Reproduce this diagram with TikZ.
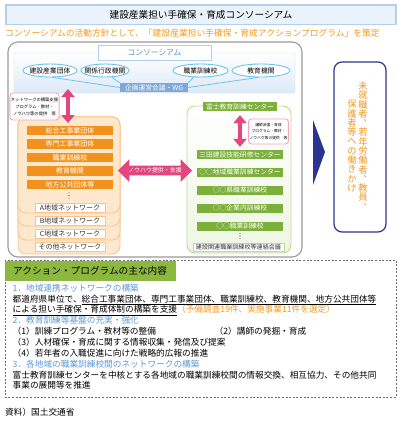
\documentclass[tikz,border=0pt]{standalone}
\usepackage{fontspec}
\setmainfont{Noto Sans CJK JP}
\usetikzlibrary{arrows.meta,shapes.geometric,shapes.arrows,positioning,calc}
\definecolor{TBlue}{HTML}{EAF2FB}
\definecolor{TBlueLine}{HTML}{B3CFEC}
\definecolor{OText}{HTML}{F29A1F}
\definecolor{FrameGray}{HTML}{9A9A9A}
\definecolor{CBlue}{HTML}{DCE9F7}
\definecolor{CBlueLine}{HTML}{C6DAF0}
\definecolor{LabelBlue}{HTML}{5E8CC8}
\definecolor{EllLine}{HTML}{6DC3EA}
\definecolor{WGBlue}{HTML}{7FA7D9}
\definecolor{PinkArrow}{HTML}{E2467C}
\definecolor{PinkLine}{HTML}{F3A3C1}
\definecolor{OBox}{HTML}{F2921E}
\definecolor{OCard}{HTML}{FDE7CD}
\definecolor{OCardLine}{HTML}{F8C48D}
\definecolor{GBox}{HTML}{7DB03A}
\definecolor{GCard}{HTML}{EDF6E2}
\definecolor{GCardLine}{HTML}{BCDA95}
\definecolor{Navy}{HTML}{2B3590}
\definecolor{HeadGreen}{HTML}{8DB83F}
\definecolor{HeadBlue}{HTML}{5C98D6}
\definecolor{DashGray}{HTML}{6E6E6E}
\newcommand{\FontAt}[1]{\fontsize{#1}{#1}\selectfont\lineskiplimit=-20pt\relax}
\newcommand{\PlanFont}{\fontsize{8.7}{10.9}\selectfont\lineskiplimit=-20pt\relax}
\newcommand{\VComma}{\makebox[1em][l]{\raisebox{0.55em}[0pt][0pt]{\hspace*{0.55em}、}}}
\NewDocumentCommand{\MoreDots}{O{(0,0)}}{
    \begin{scope}[shift={#1}]
    \foreach \k in {-2.6,0,2.6}
      \fill[black!70] (0,\k) circle (0.55bp);
    \end{scope}
}
\tikzset{
  titlebox/.style={draw=TBlueLine, fill=TBlue, line width=1.2bp, minimum width=390bp, minimum height=19.5bp, inner sep=0pt, font=\FontAt{9.7}},
  consbox/.style={draw=CBlueLine, top color=white, bottom color=CBlue, rounded corners=2bp, minimum width=281bp, minimum height=40bp},
  tabbox/.style={draw=TBlueLine, fill=white, minimum width=113bp, minimum height=15bp, inner sep=0pt, text=LabelBlue, font=\FontAt{7.8}},
  ellnode/.style={ellipse, draw=EllLine, line width=0.9bp, fill=white, inner xsep=-4bp, inner ysep=0pt, minimum height=13bp, font=\FontAt{6.8}},
  wgbox/.style={fill=WGBlue, text=white, minimum width=68bp, minimum height=9bp, inner sep=0pt, font=\FontAt{6.8}},
  elline/.style={EllLine, line width=0.8bp},
  notebox/.style={draw=PinkLine, line width=0.9bp, fill=white, rounded corners=3bp, align=center, inner sep=1bp},
  pinkarrow/.style={PinkArrow, line width=4.5bp, {Triangle[width=13bp 0,length=8bp 0]}-{Triangle[width=13bp 0,length=8bp 0]}},
  card/.style={draw=OCardLine, fill=OCard, rounded corners=8bp, line width=0.8bp},
  obox/.style={fill=OBox, text=white, minimum width=86bp, minimum height=9.5bp, inner sep=0pt, font=\FontAt{7}},
  netbox/.style={draw=OCardLine, fill=white, text=black!80, minimum width=70bp, minimum height=9bp, inner sep=0pt, font=\FontAt{7}},
  gcard/.style={draw=GCardLine, top color=white, bottom color=GCard, rounded corners=8bp, line width=0.9bp},
  gbox/.style={fill=GBox, text=white, minimum width=86bp, minimum height=9bp, inner sep=0pt, font=\FontAt{6.8}},
  councilbox/.style={draw=GCardLine, fill=white, text=black!80, minimum width=91bp, minimum height=8.5bp, inner sep=0pt, font=\FontAt{6.1}},
  vtext/.style={inner sep=0pt, align=center, text=OText, font=\FontAt{9.3}},
}

\begin{document}
\begin{tikzpicture}[x=1bp, y=-1bp]
\useasboundingbox (0,0) rectangle (402,421);

% heading
\node[titlebox] (title) at (201,14.75) {建設産業担い手確保・育成コンソーシアム};
\node[anchor=west, inner sep=0pt, text=OText, font=\FontAt{8.8}] (policy) at (5,33.5)
  {コンソーシアムの活動方針として、「建設産業担い手確保・育成アクションプログラム」を策定};

% consortium
\draw[FrameGray, line width=1.1bp, rounded corners=10bp] (8,42) rectangle (302,257);
\node[consbox] (cons) at (154.5,73) {};
\node[tabbox] (constab) at (154.5,52.5) {コンソーシアム};
\node[ellnode, minimum width=54bp] (e1) at (50,70.5) {建設産業団体};
\node[ellnode, minimum width=48bp] (e2) at (105,70.5) {関係行政機関};
\node[ellnode, minimum width=55bp] (e3) at (200.5,70.5) {職業訓練校};
\node[ellnode, minimum width=58bp] (e4) at (261,70.5) {教育機関};
\node[wgbox] (wg) at (154,87.5) {企画運営会議・WG};
\draw[elline] (e1.-70) -- (wg.west);
\draw[elline] (e2.-45) -- (wg.north west);
\draw[elline] (e3.-135) -- (wg.north east);
\draw[elline] (e4.-110) -- (wg.east);

% regional networks
\foreach \b in {254,240,226,213}
  \draw[card] (18,117) rectangle (120,\b);
\foreach \t [count=\i] in {総合工事業団体,専門工事業団体,職業訓練校,教育機関,地方公共団体等}
  \node[obox] (org\i) at (70,117+13.5*\i) {\t};
\MoreDots[(69,195.5)]
\foreach \t/\y [count=\i] in {A地域ネットワーク/207.5,B地域ネットワーク/220.5,C地域ネットワーク/233.5,その他ネットワーク/247}
  \node[netbox] (net\i) at (70,\y) {\t};

\node[notebox, minimum width=47bp, minimum height=27bp, font=\fontsize{4.3}{7}\selectfont] (lnote) at (34.5,106.5)
  {ネットワークの構築支援\\プログラム・教材・\\ノウハウ等の提供　等};
\coordinate (la-top) at (68,89);
\coordinate (la-bot) at (68,123);
\draw[pinkarrow] (la-top) -- (la-bot);

% training schools
\draw[gcard] (187,106) rectangle (291,253);
\node[gbox, minimum width=74bp] (fuji) at (240,106.5) {富士教育訓練センター};
\foreach \t [count=\i] in {三田建設技能研修センター,○○地域職業訓練センター,○○県職業訓練校,○○企業内訓練校,○○職業訓練校}
  \node[gbox] (school\i) at (240,136.6+17.9*\i) {\t};
\MoreDots[(240,236)]
\node[councilbox] (council) at (238.5,247) {建設関連職業訓練校等連絡会議};
\node[notebox, minimum width=39bp, minimum height=25bp, font=\fontsize{3.8}{6.5}\selectfont] (rnote) at (268.5,131.5)
  {講師派遣・育成\\プログラム・教材・\\ノウハウ等の提供　等};
\draw[pinkarrow] ([yshift=-4bp]fuji.south) -- ([yshift=3bp]school1.north);

\node[double arrow, fill=PinkArrow, text=white, font=\FontAt{6}, minimum height=74bp,
  inner xsep=0pt, inner ysep=1.8bp, double arrow head extend=6.5bp] (knowhow) at (155,170.5) {ノウハウ提供・支援};

% target
\fill[Navy] (313,120) -- (325,152) -- (313,185) -- cycle;
\node[draw=Navy, line width=1.2bp, fill=white, rounded corners=8bp, minimum width=52bp, minimum height=170bp] (target) at (360,147) {};
\node[vtext] (vright) at (363,146) {未\\就\\職\\者\\\VComma\\若\\年\\労\\働\\者\\\VComma\\教\\員\\\VComma};
\node[vtext] (vleft) at (352,146) {保\\護\\者\\等\\へ\\の\\働\\き\\か\\け};

% programme contents
\draw[DashGray, line width=0.8bp, dash pattern=on 2bp off 1.6bp] (5,260) rectangle (396,397);
\node[anchor=north west, fill=HeadGreen, minimum width=171bp, minimum height=20bp, inner xsep=8bp, inner ysep=0pt,
  text width=155bp, align=left, font=\FontAt{9.7}] (head) at (5,261) {アクション・プログラムの主な内容};
\node[anchor=north west, align=left, inner sep=0pt, font=\PlanFont] (plan) at (12.5,283.7) {%
  \textcolor{HeadBlue}{1．地域連携ネットワークの構築}\\
  都道府県単位で、\underline{総合工事業団体、専門工事業団体、職業訓練校、教育機関、地方公共団体等}\\
  \underline{による担い手確保・育成体制の構築を支援}\textcolor{OText}{（予備調査19件、実施事業11件を選定）}\\
  \textcolor{HeadBlue}{2．教育訓練等基盤の充実・強化}\\
  \makebox[202bp][l]{（1）訓練プログラム・教材等の整備}（2）講師の発掘・育成\\
  （3）人材確保・育成に関する情報収集・発信及び提案\\
  （4）若年者の入職促進に向けた戦略的広報の推進\\
  \textcolor{HeadBlue}{3．各地域の職業訓練校間のネットワークの構築}\\
  富士教育訓練センターを中核とする各地域の職業訓練校間の情報交換、相互協力、その他共同\\
  事業の展開等を推進};
\node[anchor=west, inner sep=0pt, font=\FontAt{8.7}] (source) at (5,412) {資料）国土交通省};
\end{tikzpicture}
\end{document}
